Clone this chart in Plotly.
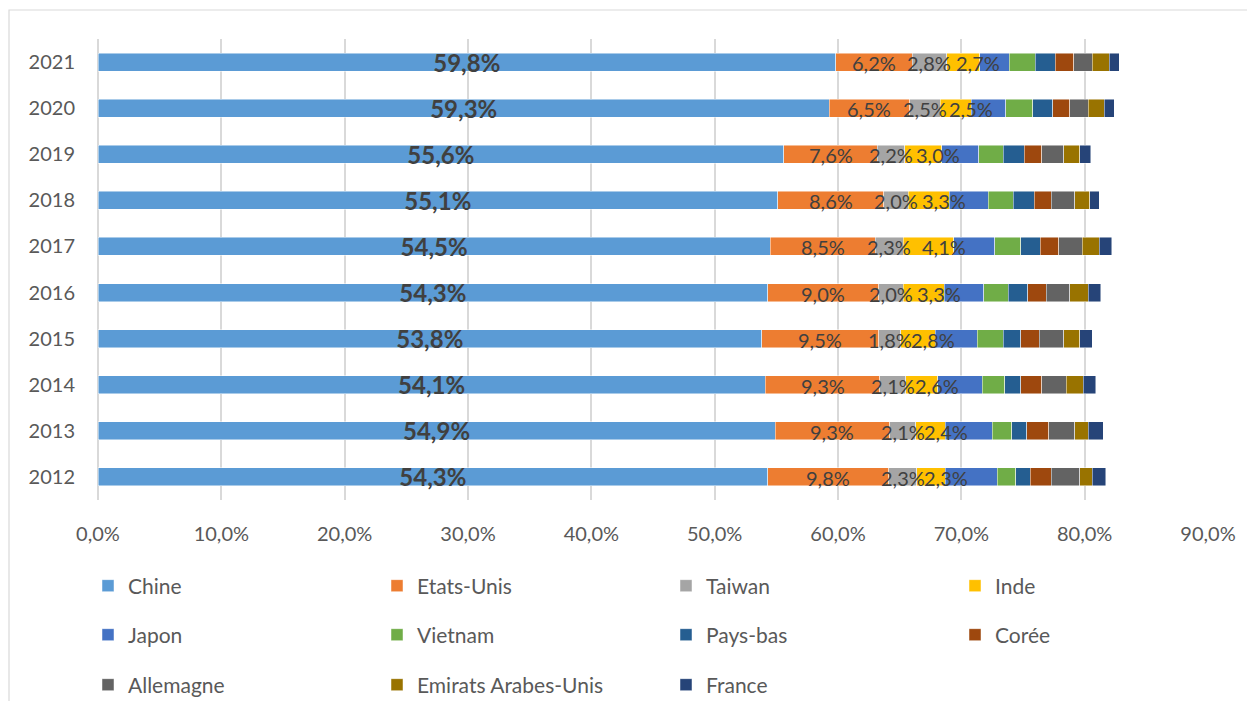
import plotly.graph_objects as go

years = ["2012", "2013", "2014", "2015", "2016", "2017", "2018", "2019", "2020", "2021"]

chine      = [54.3, 54.9, 54.1, 53.8, 54.3, 54.5, 55.1, 55.6, 59.3, 59.8]
etats_unis = [9.8, 9.3, 9.3, 9.5, 9.0, 8.5, 8.6, 7.6, 6.5, 6.2]
taiwan     = [2.3, 2.1, 2.1, 1.8, 2.0, 2.3, 2.0, 2.2, 2.5, 2.8]
inde       = [2.3, 2.4, 2.6, 2.8, 3.3, 4.1, 3.3, 3.0, 2.5, 2.7]
japon      = [4.2, 3.8, 3.6, 3.4, 3.2, 3.3, 3.2, 3.0, 2.8, 2.4]
vietnam    = [1.5, 1.6, 1.8, 2.1, 2.0, 2.1, 2.0, 2.0, 2.2, 2.1]
pays_bas   = [1.2, 1.2, 1.3, 1.4, 1.6, 1.6, 1.7, 1.7, 1.6, 1.6]
coree      = [1.7, 1.8, 1.7, 1.5, 1.5, 1.5, 1.4, 1.4, 1.4, 1.5]
allemagne  = [2.3, 2.1, 2.0, 2.0, 1.9, 1.9, 1.9, 1.8, 1.5, 1.5]
eau        = [1.0, 1.1, 1.4, 1.3, 1.5, 1.4, 1.2, 1.3, 1.3, 1.4]
france     = [1.1, 1.2, 1.0, 1.0, 1.0, 1.0, 0.8, 0.9, 0.8, 0.8]

series_names = ["Chine", "Etats-Unis", "Taiwan", "Inde", "Japon", "Vietnam",
                "Pays-bas", "Corée", "Allemagne", "Emirats Arabes-Unis", "France"]
series_values = [chine, etats_unis, taiwan, inde, japon, vietnam,
                 pays_bas, coree, allemagne, eau, france]
colors = ["#5B9BD5", "#ED7D31", "#A5A5A5", "#FFC000", "#4472C4", "#70AD47",
          "#255E91", "#9E480E", "#636363", "#997300", "#264478"]
legend_of = ["legend"] * 4 + ["legend2"] * 4 + ["legend3"] * 3
# label x-offsets in pixels (Excel placed the Inde labels slightly right of centre)
label_shift = {"Etats-Unis": 0, "Taiwan": 0, "Inde": 15}

FONT = "Lato"
LABEL_COLOR = "#404040"


def fmt(v):
    return f"{v:.1f}%".replace(".", ",")


fig = go.Figure()
for name, vals, col, lg in zip(series_names, series_values, colors, legend_of):
    xs = [v / 100 for v in vals]
    kw = {}
    if name == "Chine":
        kw = dict(
            text=[f"<b>{fmt(v)}</b>" for v in vals],
            textposition="inside",
            insidetextanchor="middle",
            textangle=0,
            constraintext="none",
            insidetextfont=dict(family=FONT, size=24, color=LABEL_COLOR),
        )
    fig.add_trace(go.Bar(
        y=years, x=xs, name=name, orientation="h",
        marker=dict(color=col, line=dict(color="rgba(255,255,255,0.6)", width=0.8)),
        legend=lg, hoverinfo="x+name", **kw,
    ))

# segment labels for Etats-Unis, Taiwan, Inde drawn on top of all bars
# (category axis: annotation y is the category's serial number)
annotations = []
cum = [0.0] * len(years)
for name, vals in zip(series_names, series_values):
    if name in label_shift:
        for i, v in enumerate(vals):
            annotations.append(dict(
                x=(cum[i] + v / 2) / 100, y=i, xref="x", yref="y",
                text=fmt(v), showarrow=False, xshift=label_shift[name], yshift=-1,
                font=dict(family=FONT, size=20, color=LABEL_COLOR),
            ))
    cum = [c + v for c, v in zip(cum, vals)]

tickvals = [i / 10 for i in range(10)]
ticktext = [f"{i*10},0%" for i in range(10)]

# page body has an 8px default margin: the figure is shifted by it
OFF = 8
W, H = 1255 - OFF, 701 - OFF
# target plot area in screenshot pixels
PX0, PX1, PY0, PY1 = 98, 1208, 39, 500
L, R, T, B = PX0 - OFF, W - (PX1 - OFF), PY0 - OFF, H - (PY1 - OFF)
PH = PY1 - PY0
PW = PX1 - PX0


def py(y):
    return (PY1 - y) / PH


def px(x):
    return (x - PX0) / PW


leg_common = dict(orientation="h", xanchor="left", yanchor="middle",
                  entrywidth=244, entrywidthmode="pixels",
                  font=dict(family=FONT, size=21, color="#595959"),
                  itemwidth=30, bgcolor="rgba(0,0,0,0)", traceorder="normal",
                  borderwidth=0)

fig.update_layout(
    width=W, height=H,
    margin=dict(l=L, r=R, t=T, b=B, pad=0, autoexpand=False),
    barmode="stack", bargap=0.61,
    plot_bgcolor="white", paper_bgcolor="white",
    font=dict(family=FONT, size=20, color="#595959"),
    xaxis=dict(range=[0, 0.9], tickvals=tickvals, ticktext=ticktext,
               showgrid=True, gridcolor="#D9D9D9", gridwidth=1.5,
               zeroline=True, zerolinecolor="#D9D9D9", zerolinewidth=1.5,
               showline=False, ticks="", ticklabelstandoff=20, automargin=False,
               tickfont=dict(family=FONT, size=20, color="#595959"), fixedrange=True),
    yaxis=dict(type="category", categoryorder="array", categoryarray=years,
               range=[-0.5, len(years) - 0.5], showgrid=False,
               showline=False, ticks="", ticklabelstandoff=22, automargin=False,
               tickfont=dict(family=FONT, size=20, color="#595959"), fixedrange=True),
    legend=dict(x=px(88), y=py(586), **leg_common),
    legend2=dict(x=px(88), y=py(635), **leg_common),
    legend3=dict(x=px(88), y=py(685), **leg_common),
    showlegend=True,
    annotations=annotations,
    shapes=[dict(type="rect", xref="paper", yref="paper",
                 x0=px(9), x1=px(1300), y0=py(760), y1=py(10),
                 line=dict(color="#D9D9D9", width=1.2), fillcolor="rgba(0,0,0,0)", layer="below")],
)

fig.write_html("out.html")
